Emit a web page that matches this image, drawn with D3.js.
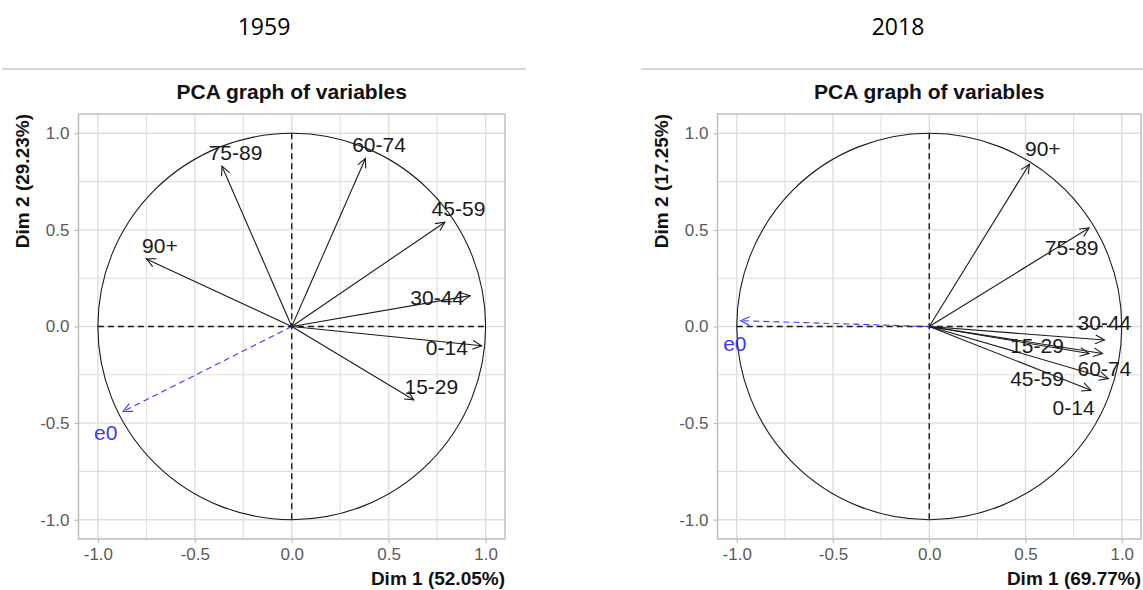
<!DOCTYPE html>
<html>
<head>
<meta charset="utf-8">
<script src="https://cdn.jsdelivr.net/npm/d3@7"></script>
<style>
  body { margin: 0; background: #fff; }
  svg { display: block; }
</style>
</head>
<body>
<svg id="chart" width="1143" height="590"></svg>
<script>
// variables (age groups + life expectancy)
const variables = ['0-14', '15-29', '30-44', '45-59', '60-74', '75-89', '90+', 'e0']
const supplementary = ['e0']

// 1959 coordinates on Dim 1 / Dim 2
const dim1_1959 = [0.98, 0.63, 0.92, 0.79, 0.38, -0.36, -0.75, -0.87]
const dim2_1959 = [-0.10, -0.38, 0.16, 0.54, 0.87, 0.83, 0.35, -0.44]
const labelDim1_1959 = [0.80, 0.72, 0.75, 0.86, 0.45, -0.29, -0.68, -0.96]
const labelDim2_1959 = [-0.11, -0.31, 0.15, 0.61, 0.94, 0.90, 0.42, -0.55]

// 2018 coordinates
const dim1_2018 = [0.84, 0.83, 0.91, 0.90, 0.93, 0.83, 0.52, -0.98]
const dim2_2018 = [-0.33, -0.14, -0.07, -0.14, -0.27, 0.51, 0.84, 0.03]
const labelDim1_2018 = [0.75, 0.56, 0.91, 0.56, 0.91, 0.74, 0.59, -1.01]
const labelDim2_2018 = [-0.42, -0.10, 0.02, -0.27, -0.22, 0.41, 0.92, -0.09]

const years = ['1959', '2018']
const dim1Titles = ['Dim 1 (52.05%)', 'Dim 1 (69.77%)']
const dim2Titles = ['Dim 2 (29.23%)', 'Dim 2 (17.25%)']
const plotTitle = 'PCA graph of variables'
const tickValues = [-1, -0.5, 0, 0.5, 1]
const gridValues = [-1, -0.75, -0.5, -0.25, 0, 0.25, 0.5, 0.75, 1]

const svg = d3.select('#chart')
const font = 'Liberation Sans, Arial, sans-serif'

const panels = [
    { x1: dim1_1959, y1: dim2_1959, lx: labelDim1_1959, ly: labelDim2_1959, left: 78.5, right: 505, headX: 264, lineX: [2, 526] },
    { x1: dim1_2018, y1: dim2_2018, lx: labelDim1_2018, ly: labelDim2_2018, left: 717.5, right: 1141, headX: 898, lineX: [641, 1143] }
]

const panelTop = 114, panelBottom = 539

function arrowHead(g, x0, y0, x1, y1, color) {
    const a = Math.atan2(y1 - y0, x1 - x0)
    const len = 10, spread = 0.45
    const p = [
        [x1 - len * Math.cos(a - spread), y1 - len * Math.sin(a - spread)],
        [x1, y1],
        [x1 - len * Math.cos(a + spread), y1 - len * Math.sin(a + spread)]
    ]
    g.append('path')
        .attr('d', d3.line()(p))
        .attr('fill', 'none')
        .attr('stroke', color)
        .attr('stroke-width', 1.1)
}

panels.forEach((p, k) => {
    const x = d3.scaleLinear().domain([-1.1, 1.1]).range([p.left, p.right])
    const y = d3.scaleLinear().domain([-1.1, 1.1]).range([panelBottom, panelTop])
    const g = svg.append('g')

    // year header + separator
    g.append('text')
        .attr('x', p.headX).attr('y', 35)
        .attr('text-anchor', 'middle')
        .style('font-family', 'Open Sans, sans-serif')
        .style('font-size', '23px')
        .attr('fill', '#000')
        .text(years[k])
    g.append('line')
        .attr('x1', p.lineX[0]).attr('x2', p.lineX[1])
        .attr('y1', 69).attr('y2', 69)
        .attr('stroke', '#c8c8c8').attr('stroke-width', 1.5)

    // title
    g.append('text')
        .attr('x', (p.left + p.right) / 2).attr('y', 99)
        .attr('text-anchor', 'middle')
        .style('font-family', font)
        .style('font-size', '21px')
        .style('font-weight', 'bold')
        .attr('fill', '#111')
        .text(plotTitle)

    // grid
    const grid = g.append('g')
    grid.selectAll('.gx').data(gridValues).enter().append('line')
        .attr('x1', d => x(d)).attr('x2', d => x(d))
        .attr('y1', panelTop).attr('y2', panelBottom)
        .attr('stroke', '#dedede').attr('stroke-width', d => d % 0.5 === 0 ? 1.4 : 1.1)
    grid.selectAll('.gy').data(gridValues).enter().append('line')
        .attr('y1', d => y(d)).attr('y2', d => y(d))
        .attr('x1', p.left).attr('x2', p.right)
        .attr('stroke', '#dedede').attr('stroke-width', d => d % 0.5 === 0 ? 1.4 : 1.1)

    // axes
    const xAxis = d3.axisBottom(x).tickValues(tickValues).tickSize(4).tickPadding(5)
    const yAxis = d3.axisLeft(y).tickValues(tickValues).tickSize(4).tickPadding(5)
    const gx = g.append('g').attr('transform', `translate(0,${panelBottom})`).call(xAxis)
    const gy = g.append('g').attr('transform', `translate(${p.left},0)`).call(yAxis)
    ;[gx, gy].forEach(ax => {
        ax.select('.domain').remove()
        ax.selectAll('.tick line').attr('stroke', '#b0b0b0')
        ax.selectAll('.tick text')
            .attr('fill', '#5a5a5a')
            .style('font-family', font)
            .style('font-size', '17px')
            .text(d => d3.format('.1f')(d).replace('−', '-'))
    })

    // panel border
    g.append('rect')
        .attr('x', p.left).attr('y', panelTop)
        .attr('width', p.right - p.left).attr('height', panelBottom - panelTop)
        .attr('fill', 'none').attr('stroke', '#bebebe').attr('stroke-width', 1.5)

    // axis titles
    g.append('text')
        .attr('x', p.right).attr('y', 585)
        .attr('text-anchor', 'end')
        .style('font-family', font).style('font-size', '19px').style('font-weight', 'bold')
        .attr('fill', '#111')
        .text(dim1Titles[k])
    g.append('text')
        .attr('transform', `translate(${p.left - 50},${panelTop}) rotate(-90)`)
        .attr('text-anchor', 'end')
        .style('font-family', font).style('font-size', '19px').style('font-weight', 'bold')
        .attr('fill', '#111')
        .text(dim2Titles[k])

    // correlation circle + dashed axes
    g.append('ellipse')
        .attr('cx', x(0)).attr('cy', y(0))
        .attr('rx', x(1) - x(0)).attr('ry', y(0) - y(1))
        .attr('fill', 'none').attr('stroke', '#1a1a1a').attr('stroke-width', 1.1)
    g.append('line')
        .attr('x1', x(-1)).attr('x2', x(1)).attr('y1', y(0)).attr('y2', y(0))
        .attr('stroke', '#1a1a1a').attr('stroke-width', 1.4).attr('stroke-dasharray', '6,4')
    g.append('line')
        .attr('x1', x(0)).attr('x2', x(0)).attr('y1', y(1)).attr('y2', y(-1))
        .attr('stroke', '#1a1a1a').attr('stroke-width', 1.4).attr('stroke-dasharray', '6,4')

    // arrows
    variables.forEach((v, i) => {
        const sup = supplementary.includes(v)
        const color = sup ? '#3b3bf0' : '#1a1a1a'
        const x0 = x(0), y0 = y(0), xe = x(p.x1[i]), ye = y(p.y1[i])
        g.append('line')
            .attr('x1', x0).attr('y1', y0).attr('x2', xe).attr('y2', ye)
            .attr('stroke', color).attr('stroke-width', 1.1)
            .attr('stroke-dasharray', sup ? '6,4' : null)
        arrowHead(g, x0, y0, xe, ye, color)
        g.append('text')
            .attr('x', x(p.lx[i])).attr('y', y(p.ly[i]))
            .attr('dy', '0.35em')
            .attr('text-anchor', 'middle')
            .style('font-family', font).style('font-size', '21px')
            .attr('fill', sup ? '#3b3bf0' : '#1a1a1a')
            .text(v)
    })
})
</script>
</body>
</html>
